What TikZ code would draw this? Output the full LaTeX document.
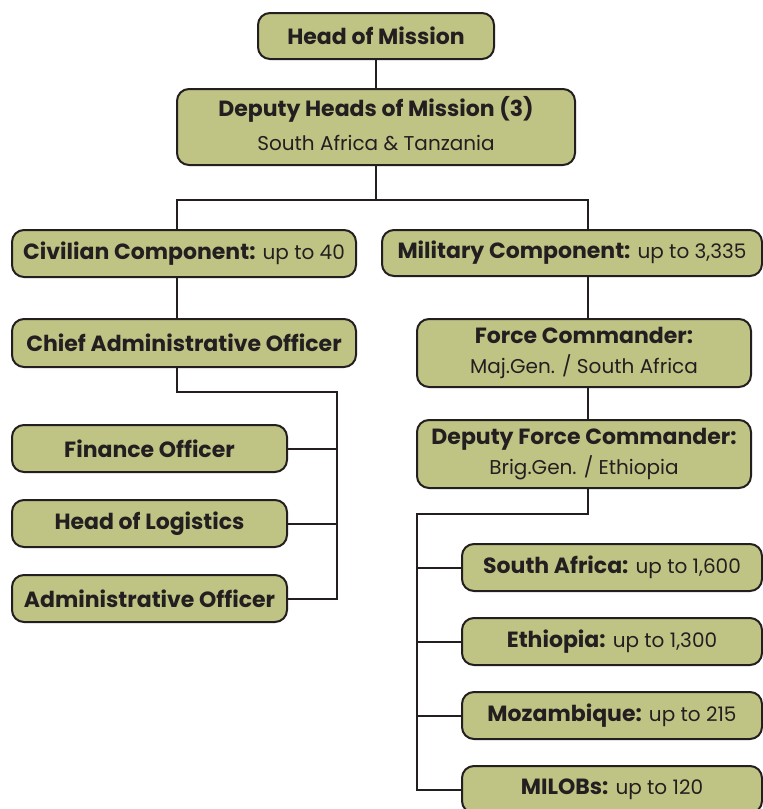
\documentclass[tikz,border=0pt]{standalone}
\usepackage{fontspec}
\setmainfont{Poppins}
\definecolor{boxfill}{RGB}{191,196,132}
\definecolor{ink}{RGB}{35,31,32}
\newcommand\hb[1]{{\fontsize{22}{34}\selectfont\bfseries #1}}
\begin{document}
\begin{tikzpicture}[x=1pt,y=-1pt,
  box/.style={draw=ink,fill=boxfill,line width=2pt,rounded corners=12pt,
    inner sep=0pt,align=center,text=ink,font=\fontsize{20}{34}\selectfont},
  tight/.style={font=\fontsize{20}{29.5}\selectfont},
  conn/.style={draw=ink,line width=2pt}]
\useasboundingbox (0,0) rectangle (763,809);
\begin{scope}
\clip (0,0) rectangle (763,809);
\node[box,minimum width=236pt,minimum height=46pt] (hom) at (376,36) {\hb{Head of Mission}};
\node[box,minimum width=398pt,minimum height=76pt] (dhm) at (376,127) {\hb{Deputy Heads of Mission (3)}\\South Africa \& Tanzania\rule[-8pt]{0pt}{0pt}};
\node[box,minimum width=344pt,minimum height=47pt] (civ) at (184,253.5) {\hb{Civilian Component:} up to 40};
\node[box,minimum width=344pt,minimum height=48pt] (cao) at (184,343) {\hb{Chief Administrative Officer}};
\node[box,minimum width=275pt,minimum height=47pt] (fin) at (149.5,448.5) {\hb{Finance Officer}};
\node[box,minimum width=275pt,minimum height=47pt] (log) at (149.5,523.5) {\hb{Head of Logistics}};
\node[box,minimum width=275pt,minimum height=47pt] (adm) at (149.5,598.5) {\hb{Administrative Officer}};
\node[box,minimum width=380pt,minimum height=46pt] (mil) at (572,253) {\hb{Military Component:} up to 3,335};
\node[box,tight,minimum width=334pt,minimum height=68pt] (fc) at (584,353) {\hb{Force Commander:}\\Maj.Gen. / South Africa};
\node[box,tight,minimum width=334pt,minimum height=68pt] (dfc) at (584,454) {\hb{Deputy Force Commander:}\\Brig.Gen. / Ethiopia};
\node[box,minimum width=300pt,minimum height=47pt] (sa) at (612,567.5) {\hb{South Africa:} up to 1,600};
\node[box,minimum width=300pt,minimum height=47pt] (eth) at (612,641.5) {\hb{Ethiopia:} up to 1,300};
\node[box,minimum width=300pt,minimum height=47pt] (moz) at (612,715.5) {\hb{Mozambique:} up to 215};
\node[box,minimum width=300pt,minimum height=47pt] (milobs) at (612,789.5) {\hb{MILOBs:} up to 120};
\coordinate (jL) at (177,200);
\coordinate (jR) at (588,200);
\coordinate (cbus) at (337,392);
\coordinate (mbus) at (417,514);
\draw[conn] (hom.south) -- (dhm.north);
\draw[conn] (dhm.south) -- (dhm.south |- jL);
\draw[conn] (jL |- civ.north) -- (jL) -- (jR) -- (jR |- mil.north);
\draw[conn] (jL |- civ.south) -- (jL |- cao.north);
\draw[conn] (jL |- cao.south) -- (jL |- cbus) -- (cbus) -- (cbus |- adm.east) -- (adm.east);
\draw[conn] (fin.east) -- (fin.east -| cbus);
\draw[conn] (log.east) -- (log.east -| cbus);
\draw[conn] (jR |- mil.south) -- (jR |- fc.north);
\draw[conn] (jR |- fc.south) -- (jR |- dfc.north);
\draw[conn] (jR |- dfc.south) -- (jR |- mbus) -- (mbus) -- (mbus |- milobs.west) -- (milobs.west);
\draw[conn] (sa.west) -- (sa.west -| mbus);
\draw[conn] (eth.west) -- (eth.west -| mbus);
\draw[conn] (moz.west) -- (moz.west -| mbus);
\end{scope}
\end{tikzpicture}
\end{document}
